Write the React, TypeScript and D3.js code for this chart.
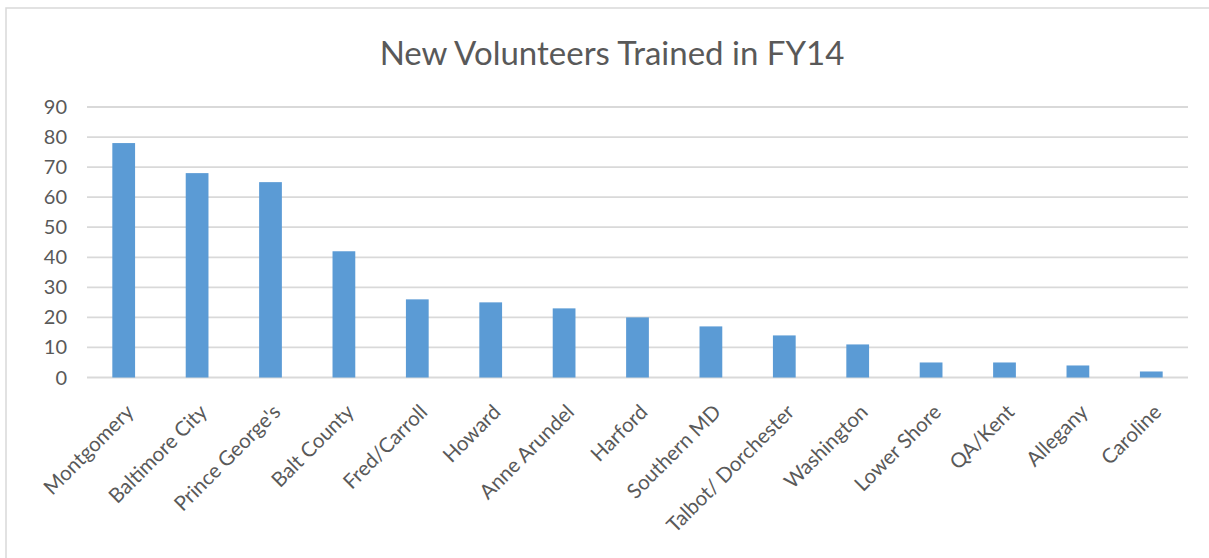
import React from "react";
import * as d3 from "d3";

const categories = [
  "Montgomery", "Baltimore City", "Prince George's", "Balt County", "Fred/Carroll",
  "Howard", "Anne Arundel", "Harford", "Southern MD", "Talbot/ Dorchester",
  "Washington", "Lower Shore", "QA/Kent", "Allegany", "Caroline",
];
const values = [78, 68, 65, 42, 26, 25, 23, 20, 17, 14, 11, 5, 5, 4, 2];
const yTicks = [0, 10, 20, 30, 40, 50, 60, 70, 80, 90];
const title = "New Volunteers Trained in FY14";

const W = 1209;
const H = 558;
const left = 87;
const right = 1188;
const top = 107;
const bottom = 377.5;
const FONT = "Lato, 'Open Sans', sans-serif";

export default function App() {
  const x = d3.scaleBand<string>().domain(categories).range([left, right]).paddingInner(0.69).paddingOuter(0.345);
  const y = d3.scaleLinear().domain([0, 90]).range([bottom, top]);
  return (
    <svg width={W} height={H} style={{ position: "absolute", left: 0, top: 0, background: "#fff" }}>
      <rect x={6} y={8} width={1220} height={570} fill="#fff" stroke="#D9D9D9" strokeWidth={1.5} />
      <text x={612} y={65} textAnchor="middle" fontFamily={FONT} fontSize={33} fill="#595959">{title}</text>
      {yTicks.map((t) => (
        <g key={t}>
          <line x1={left} x2={right} y1={y(t)} y2={y(t)} stroke="#D9D9D9" strokeWidth={1.8} />
          <text x={67} y={y(t)} dy="0.35em" textAnchor="end" fontFamily={FONT} fontSize={20} fill="#595959">{t}</text>
        </g>
      ))}
      {categories.map((c, i) => (
        <rect key={c} x={x(c)} y={y(values[i])} width={x.bandwidth()} height={bottom - y(values[i])} fill="#5B9BD5" />
      ))}
      {categories.map((c) => {
        const cx = (x(c) as number) + x.bandwidth() / 2 + 1;
        const cy = 403;
        return (
          <text key={c} x={cx} y={cy} dy="0.71em" textAnchor="end" fontFamily={FONT} fontSize={20.5} fill="#595959"
            transform={`rotate(-45 ${cx} ${cy})`}>{c}</text>
        );
      })}
    </svg>
  );
}
